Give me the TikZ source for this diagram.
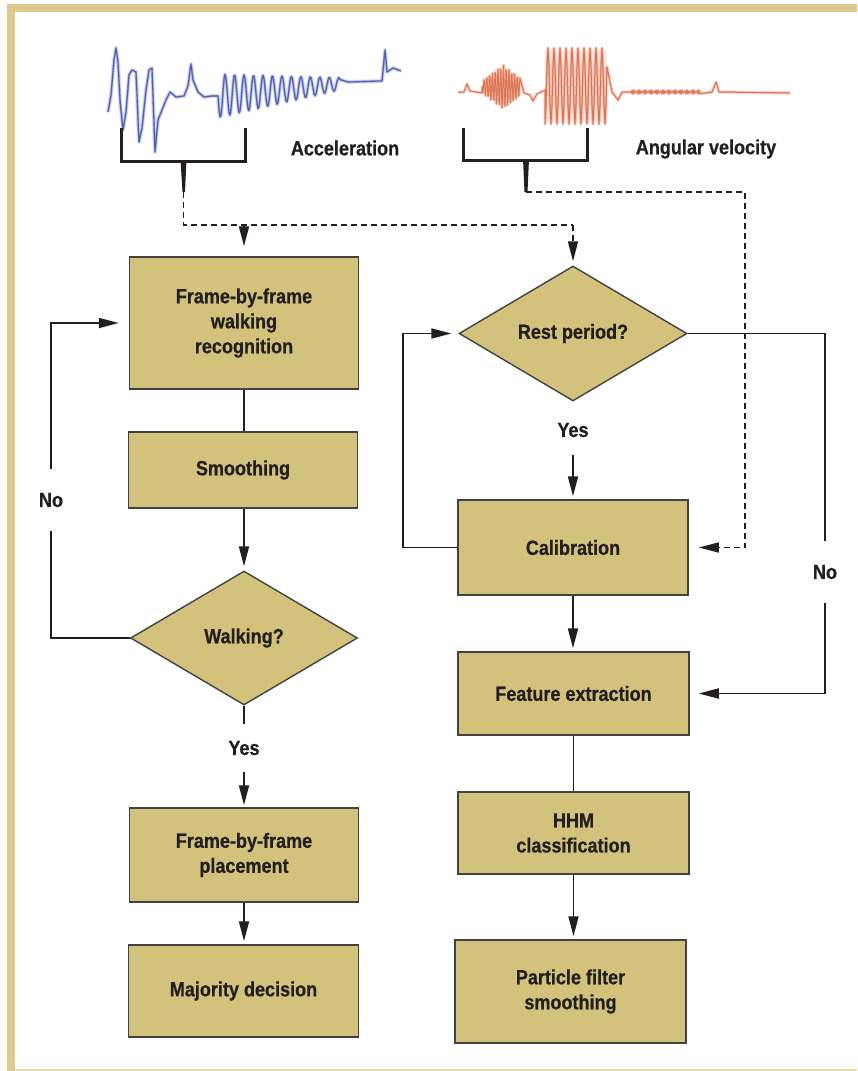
\documentclass[tikz,border=0pt]{standalone}
\usepackage{fontspec}
\newfontfamily\labfont[FakeStretch=0.88,FakeBold=0.6]{Liberation Sans}
\usetikzlibrary{shapes.geometric,arrows.meta}
\definecolor{boxfill}{HTML}{D3C27C}
\definecolor{framegold}{HTML}{DCCB8C}
\definecolor{ink}{HTML}{231F20}
\definecolor{wblue}{HTML}{3A4DA8}
\definecolor{worange}{HTML}{D8603A}
\begin{document}
\begin{tikzpicture}[x=1pt,y=-1pt,
  lab/.style={font=\labfont\bfseries\fontsize{20.5}{25}\selectfont, text=ink, align=center},
  box/.style={lab, draw=ink!85, line width=1.5pt, fill=boxfill, rectangle, inner sep=0pt},
  dia/.style={lab, draw=ink!85, line width=1.4pt, fill=boxfill, diamond, inner sep=0pt, aspect=1.7},
  conn/.style={draw=ink, line width=1.8pt},
  arr/.style={conn, -{Triangle[length=20pt,width=10pt]}},
  dashconn/.style={conn, line width=1.6pt, dash pattern=on 6pt off 4pt},
  dasharr/.style={dashconn, -{Triangle[length=20pt,width=10pt]}},
  bracket/.style={draw=ink, line width=3pt}]
\useasboundingbox (0,0) rectangle (857,1071);
% frame
\fill[framegold] (7,4) rectangle (857,12);
\fill[framegold] (7,4) rectangle (15,1071);
\fill[framegold!70] (15,1068.5) rectangle (857,1071);

% waveforms
\fill[worange, opacity=0.12] (545,50) rectangle (607,122);
\foreach \w/\o in {4/0.18, 2.2/0.35, 1.1/0.8} {
  \draw[wblue, line width=\w pt, opacity=\o, line join=round]
    (108,112) -- (111,95) -- (114,60) -- (116,48) -- (118,62) -- (120,100) -- (123,130) -- (126,112) -- (129,75) -- (132,70) -- (136,72) -- (139,142) -- (142,128) -- (146,90) -- (149,70) -- (152,68) -- (155,152) -- (158,120) -- (162,110) -- (166,100) -- (170,92) -- (176,97) -- (184,96) -- (188,86) -- (191,64) -- (193,80) -- (198,92) -- (204,97) -- (212,96) -- (218,96)
    -- plot[domain=0:122,samples=123] ({\x+218},{96-0.1*\x+(22-0.13*\x)*sin(38*\x)})
    -- (348,82) -- (382,81) -- (385,50) -- (387,72) -- (393,68) -- (401,71);
}
\foreach \w/\o in {3.5/0.18, 2/0.3, 1/0.75} {
  \draw[worange, line width=\w pt, opacity=\o, line join=round]
    (458,92) -- (464,92) -- (467,84) -- (470,91) -- (482,93)
    -- plot[domain=0:38,samples=77] ({\x+482},{87+(6+16*(1-abs(\x-21)/21))*sin(130*\x)})
    -- (524,93) -- (530,95) -- (533,101) -- (537,94) -- (545,90)
    -- plot[domain=0:62,samples=63] ({\x+545},{86+38*sin(60*\x+90)})
    -- (612,92) -- (618,100) -- (622,92)
    -- plot[domain=0:70,samples=71] ({\x+630},{92+2*sin(150*\x)})
    -- (712,92) -- (716,82) -- (719,92) -- (790,93);
}

% brackets
\draw[bracket] (121,128) |- (245,161) -- (245,128);
\fill[ink] (180.5,160) -- (186.5,160) -- (185,192) -- (182.5,192) -- cycle;
\coordinate (accstem) at (183.5,192);
\draw[bracket] (463,128) |- (587,160) -- (587,128);
\fill[ink] (523,159) -- (529,159) -- (527.5,192) -- (524.5,192) -- cycle;
\coordinate (angstem) at (526,192);

% labels
\node[lab] (acc) at (345,148) {Acceleration};
\node[lab] (ang) at (706,149) {Angular velocity};

% boxes
\node[box, minimum width=229pt, minimum height=132pt] (rec) at (244,323) {Frame-by-frame\\walking\\recognition};
\node[box, minimum width=229pt, minimum height=76pt] (smo) at (243,470) {Smoothing};
\node[dia, minimum width=227pt, minimum height=134pt] (walk) at (244,638) {Walking?};
\node[box, minimum width=229pt, minimum height=94pt] (place) at (244,855) {Frame-by-frame\\placement};
\node[box, minimum width=230pt, minimum height=92pt] (maj) at (243.5,991) {Majority decision};
\node[dia, minimum width=228pt, minimum height=135pt] (rest) at (573,333.5) {Rest period?};
\node[box, minimum width=230pt, minimum height=95pt] (cal) at (573,547.5) {Calibration};
\node[box, minimum width=231pt, minimum height=83pt] (feat) at (573.5,693.5) {Feature extraction};
\node[box, minimum width=231pt, minimum height=82pt] (hhm) at (573.5,833) {HHM\\classification};
\node[box, minimum width=231pt, minimum height=103pt] (part) at (570.5,991.5) {Particle filter\\smoothing};

% branch labels
\node[lab, minimum height=62pt, inner sep=0pt] (noL) at (51,500) {No};
\node[lab, minimum height=48pt, inner sep=0pt] (yesL) at (244,748) {Yes};
\node[lab, minimum height=50pt, inner sep=0pt] (yesR) at (573,430) {Yes};
\node[lab, minimum height=62pt, inner sep=0pt] (noR) at (825,572) {No};

% dashed connectors
\draw[dashconn] (accstem) -- ++(0,33) coordinate (dcorner) -- (rest.north |- dcorner);
\draw[arr, shorten >=10pt] (rec.north |- dcorner) -- (rec.north);
\draw[dasharr, shorten >=4pt] (rest.north |- dcorner) -- (rest.north);
\draw[dasharr, shorten >=10pt] (angstem) -- ++(219,0) |- (cal.east);

% solid connectors
\draw[conn] (rec.south) -- (rec.south |- smo.north);
\draw[arr, shorten >=4pt] (walk.north |- smo.south) -- (walk.north);
\draw[conn] (walk.south) -- (yesL.north);
\draw[arr, shorten >=2pt] (yesL.south) -- (place.north);
\draw[arr, shorten >=3pt] (place.south) -- (place.south |- maj.north);
\draw[conn] (walk.west) -| (noL.south);
\draw[arr, shorten >=10pt] (noL.north) |- (rec.west);
\draw[arr, shorten >=3pt] (yesR.south) -- (cal.north);
\draw[arr, shorten >=3pt] (cal.south) -- (cal.south |- feat.north);
\draw[conn] (hhm.north |- feat.south) -- (hhm.north);
\draw[arr, shorten >=3pt] (hhm.south) -- (hhm.south |- part.north);
\draw[arr, shorten >=7pt] (cal.west) -- ++(-54,0) |- (rest.west);
\draw[conn] (rest.east) -| (noR.north);
\draw[arr, shorten >=9pt] (noR.south) |- (feat.east);
\end{tikzpicture}
\end{document}
